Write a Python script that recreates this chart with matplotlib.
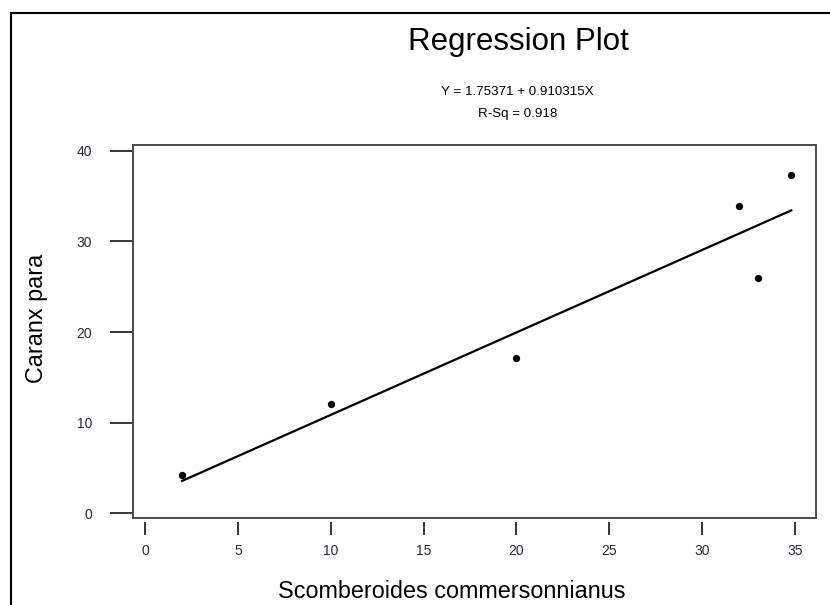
import numpy as np
import matplotlib.pyplot as plt
from matplotlib.lines import Line2D

plt.rcParams["font.family"] = ["Liberation Sans", "DejaVu Sans"]

# Sample data
scomberoides = [2.0, 10.0, 20.0, 32.0, 33.0, 34.8]
caranx = [4.2, 12.1, 17.1, 33.9, 26.0, 37.3]

# Fitted regression
intercept = 1.75371
slope = 0.910315
r_sq = 0.918

x_ticks = [0, 5, 10, 15, 20, 25, 30, 35]
y_ticks = [0, 10, 20, 30, 40]

W, H = 830, 605
fig = plt.figure(figsize=(W / 100, H / 100), dpi=100)
ax = fig.add_axes([0.1606, 0.1443, 0.8225, 0.616])

ax.scatter(scomberoides, caranx, s=18, color="black", zorder=3)
xs = np.array([min(scomberoides), max(scomberoides)])
ax.plot(xs, intercept + slope * xs, color="black", linewidth=1.6, zorder=2)

ax.set_xlim(-0.63, 36.13)
ax.set_ylim(-0.49, 40.65)
ax.set_xticks(x_ticks)
ax.set_yticks(y_ticks)
ax.set_xticklabels([str(t) for t in x_ticks])
ax.set_yticklabels([str(t) for t in y_ticks])

# box drawn by hand so the x ticks can sit slightly below it
for side in ["left", "right", "top"]:
    ax.spines[side].set_color("#4a4a4a")
    ax.spines[side].set_linewidth(1.4)
ax.spines["bottom"].set_position(("outward", 3))
ax.spines["bottom"].set_visible(False)
ax.plot([0, 1], [0, 0], transform=ax.transAxes, color="#4a4a4a",
        linewidth=1.4, clip_on=False, zorder=4)

ax.tick_params(axis="y", direction="out", length=16.5, width=1.1,
               color="black", pad=13, labelsize=10, labelcolor="#2a2a3a")
ax.tick_params(axis="x", direction="out", length=9, width=1.1,
               color="black", pad=7, labelsize=10, labelcolor="#2a2a3a")

# axis titles placed in page pixels
fig.text(452 / W, 1 - 598 / H, "Scomberoides commersonnianus",
         fontsize=16.8, ha="center", va="baseline")
fig.text(37 / W, 1 - 318 / H, "Caranx para", fontsize=16.8,
         rotation=90, ha="center", va="center")

fig.text(518 / W, 1 - 50 / H, "Regression Plot", fontsize=22.5,
         ha="center", va="baseline")
fig.text(517 / W, 1 - 95 / H, f"Y = {intercept} + {slope}X", fontsize=9.6,
         ha="center", va="baseline")
fig.text(518 / W, 1 - 117 / H, f"R-Sq = {r_sq}", fontsize=9.6,
         ha="center", va="baseline")

# frame along the left and top of the page
bx = 10.7 / W
by = 1 - 13.3 / H
fig.add_artist(Line2D([bx, bx], [0, by], transform=fig.transFigure,
                      color="black", linewidth=1.5))
fig.add_artist(Line2D([bx, 1], [by, by], transform=fig.transFigure,
                      color="black", linewidth=1.5))

fig.savefig("out.png", dpi=100)
plt.close(fig)
